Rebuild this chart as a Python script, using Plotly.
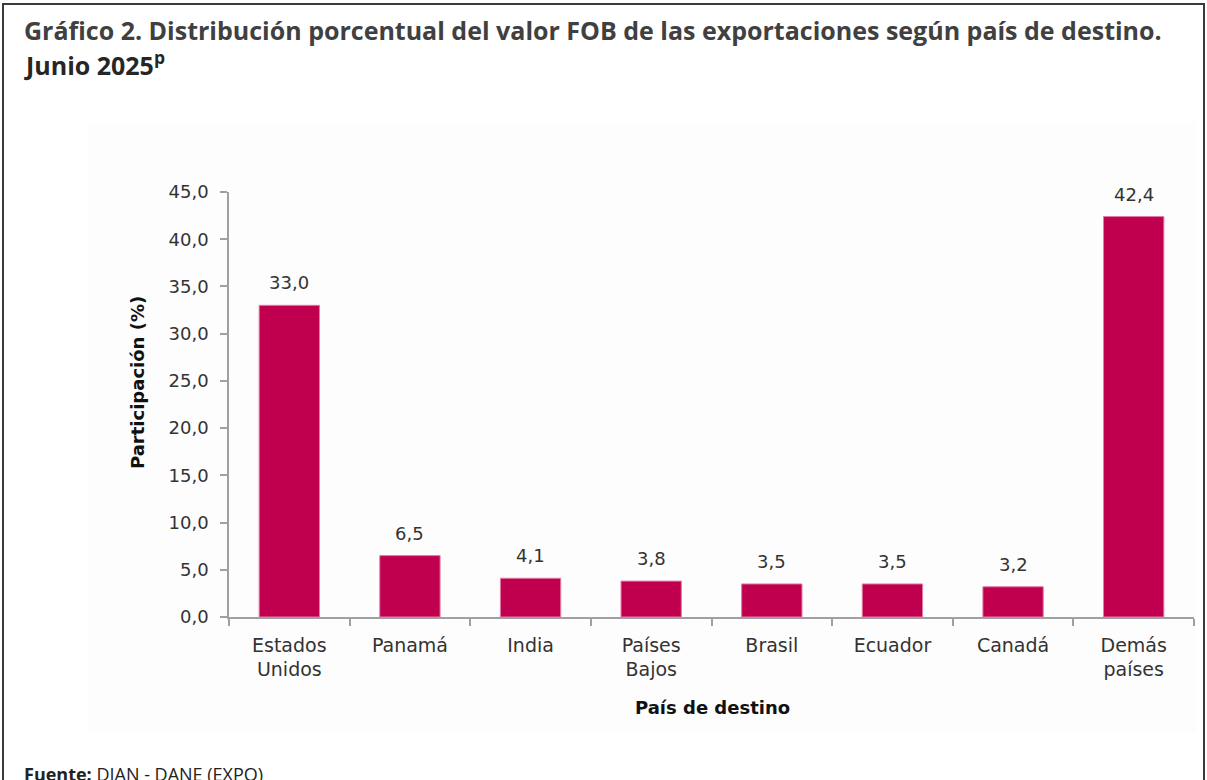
import plotly.graph_objects as go

paises = ["Estados<br>Unidos", "Panamá", "India", "Países<br>Bajos", "Brasil",
          "Ecuador", "Canadá", "Demás<br>países"]
participacion = [33.0, 6.5, 4.1, 3.8, 3.5, 3.5, 3.2, 42.4]
ticks_y = [0, 5, 10, 15, 20, 25, 30, 35, 40, 45]

W, H = 1207, 780
L, R, T, B = 229, 13, 192, 163
PW, PH = W - L - R, H - T - B

def px(x):
    return (x - L) / PW

def py(y):
    return (H - B - y) / PH

BAR = "#c0004e"
TXT = "#333333"
AX = "#a0a0a0"

fig = go.Figure()
fig.add_trace(go.Bar(
    x=paises, y=participacion,
    marker=dict(color=BAR, line=dict(width=1, color="#e27aa3")),
    showlegend=False, hoverinfo="skip",
))
for p, v in zip(paises, participacion):
    fig.add_annotation(x=p, y=v, text=f"{v:.1f}".replace(".", ","),
                       yanchor="bottom", yshift=10, showarrow=False,
                       font=dict(family="DejaVu Sans", size=18, color=TXT))

fig.update_xaxes(
    showline=True, linecolor=AX, linewidth=1.5,
    ticks="outside", tickson="boundaries", ticklen=7, tickcolor=AX, tickwidth=1.5,
    tickfont=dict(family="DejaVu Sans", size=19, color=TXT),
    ticklabelstandoff=10, showgrid=False,
)
fig.update_yaxes(
    range=[0, 45], tickvals=ticks_y, tickformat=".1f",
    showline=True, linecolor=AX, linewidth=1.5,
    ticks="outside", ticklen=7, tickcolor=AX, tickwidth=1.5,
    tickfont=dict(family="DejaVu Sans", size=18, color=TXT),
    ticklabelstandoff=8, showgrid=False, zeroline=False,
)

# fondo del área de gráfico y marco exterior
fig.add_shape(type="rect", xref="paper", yref="paper", layer="below",
              x0=px(88), x1=px(1196), y0=py(732), y1=py(122),
              fillcolor="#fdfdfd", line=dict(width=0))
fig.add_shape(type="rect", xref="paper", yref="paper",
              x0=px(3), x1=px(1204), y0=py(800), y1=py(4),
              line=dict(color="#3a3a3a", width=2))

title1 = "Gráfico 2. Distribución porcentual del valor FOB de las exportaciones según país de destino."
title2 = "Junio 2025<sup>p</sup>"
fig.add_annotation(text=f"<b>{title1}</b>", xref="paper", yref="paper",
                   x=px(22), y=py(30), xanchor="left", yanchor="middle", showarrow=False,
                   font=dict(family="Open Sans", size=25, color="#404040"))
fig.add_annotation(text=f"<b>{title2}</b>", xref="paper", yref="paper",
                   x=px(22), y=py(64), xanchor="left", yanchor="middle", showarrow=False,
                   font=dict(family="Open Sans", size=25, color="#262626"))
fig.add_annotation(text="<b>Participación (%)</b>", xref="paper", yref="paper",
                   x=px(137), y=py(383), textangle=-90, showarrow=False,
                   xanchor="center", yanchor="middle",
                   font=dict(family="DejaVu Sans", size=18, color="#111111"))
fig.add_annotation(text="<b>País de destino</b>", xref="paper", yref="paper",
                   x=px(712), y=py(707), showarrow=False,
                   xanchor="center", yanchor="middle",
                   font=dict(family="DejaVu Sans", size=18, color="#111111"))
fig.add_annotation(text="<b>Fuente:</b> DIAN - DANE (EXPO)", xref="paper", yref="paper",
                   x=px(22), y=py(774), xanchor="left", yanchor="middle", showarrow=False,
                   font=dict(family="Open Sans", size=18, color="#222222"))

fig.update_layout(
    width=W, height=H,
    margin=dict(l=L, r=R, t=T, b=B),
    paper_bgcolor="white", plot_bgcolor="rgba(0,0,0,0)",
    bargap=0.5, separators=",.",
)

fig.write_html("out.html", config={"displayModeBar": False},
               post_script="document.body.style.margin='0';")
